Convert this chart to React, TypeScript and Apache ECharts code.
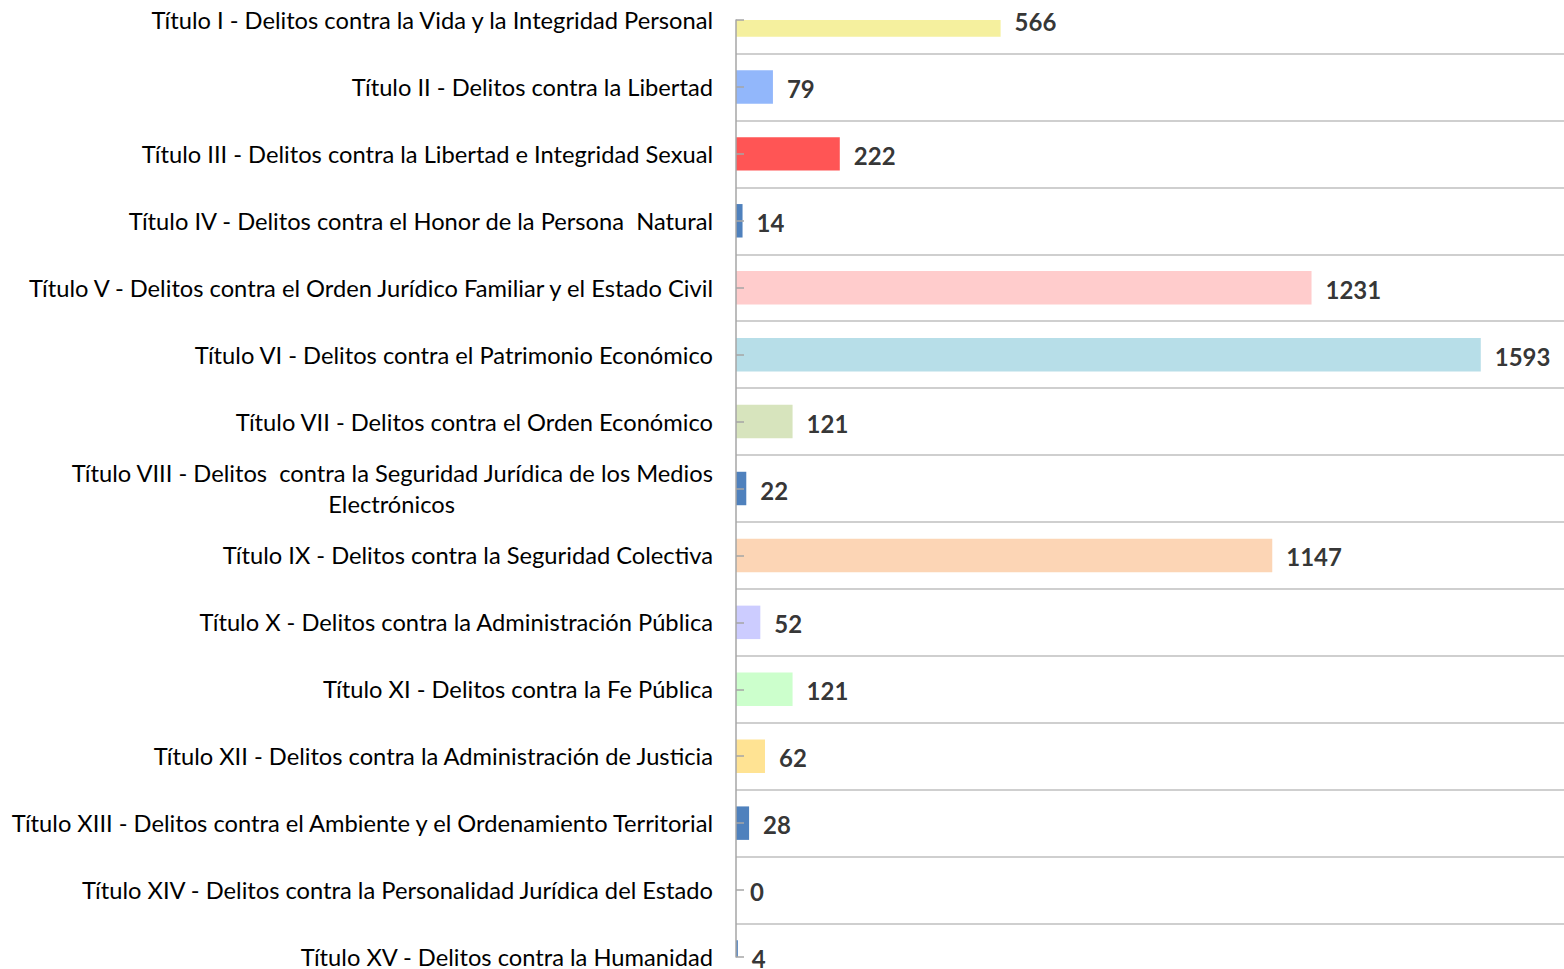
import React, { useEffect, useRef } from "react";
import * as echarts from "echarts";

const categories = [
  "Título I - Delitos contra la Vida y la Integridad Personal",
  "Título II - Delitos contra la Libertad",
  "Título III - Delitos contra la Libertad e Integridad Sexual",
  "Título IV - Delitos contra el Honor de la Persona  Natural",
  "Título V - Delitos contra el Orden Jurídico Familiar y el Estado Civil",
  "Título VI - Delitos contra el Patrimonio Económico",
  "Título VII - Delitos contra el Orden Económico",
  "Título VIII - Delitos  contra la Seguridad Jurídica de los Medios\nElectrónicos",
  "Título IX - Delitos contra la Seguridad Colectiva",
  "Título X - Delitos contra la Administración Pública",
  "Título XI - Delitos contra la Fe Pública",
  "Título XII - Delitos contra la Administración de Justicia",
  "Título XIII - Delitos contra el Ambiente y el Ordenamiento Territorial",
  "Título XIV - Delitos contra la Personalidad Jurídica del Estado",
  "Título XV - Delitos contra la Humanidad",
];

const values = [566, 79, 222, 14, 1231, 1593, 121, 22, 1147, 52, 121, 62, 28, 0, 4];

const barColors = [
  "#F5F09E", "#92B7FB", "#FF5555", "#4F81BD", "#FFCCCC", "#B7DEE8", "#D7E4BD",
  "#4F81BD", "#FCD5B5", "#CCCCFF", "#CCFFCC", "#FFE393", "#4F81BD", "#4F81BD", "#4F81BD",
];

const xMax = 1771;

export default function App() {
  const ref = useRef<HTMLDivElement>(null);
  useEffect(() => {
    if (!ref.current) return;
    const chart = echarts.init(ref.current, null, { renderer: "svg" });
    const font = "Lato";
    const catSize = 23.7;
    chart.setOption({
      animation: false,
      backgroundColor: "#ffffff",
      grid: { left: 736, top: 20, height: 938, right: 0, containLabel: false },
      xAxis: {
        type: "value",
        min: 0,
        max: xMax,
        show: false,
      },
      yAxis: [
        {
          type: "category",
          data: categories,
          inverse: true,
          boundaryGap: false,
          z: 5,
          axisLine: { show: true, lineStyle: { color: "#a6a6a6", width: 1.5 } },
          axisTick: { show: true, inside: true, length: 8, lineStyle: { color: "#a6a6a6", width: 1.5 } },
          splitLine: { show: false },
          axisLabel: {
            margin: 23,
            fontFamily: font,
            fontSize: catSize,
            color: "#000000",
            interval: 0,
            formatter: (v: string) => {
              const parts = v.split("\n");
              if (parts.length > 1) {
                return "{a|" + parts[0] + "}\n{c|" + parts[1] + "}";
              }
              return v;
            },
            rich: {
              a: { fontFamily: font, fontSize: catSize, color: "#000", lineHeight: 31, align: "right" },
              c: { fontFamily: font, fontSize: catSize, color: "#000", lineHeight: 31, align: "center" },
            },
          },
        },
        {
          type: "value",
          min: 0,
          max: 14,
          interval: 0.5,
          inverse: true,
          position: "right",
          axisLine: { show: false },
          axisTick: { show: false },
          axisLabel: { show: false },
          splitLine: {
            show: true,
            lineStyle: { color: ["rgba(0,0,0,0)", "#bfbfbf"], width: 1.5 },
          },
        },
      ],
      series: [
        {
          type: "custom",
          yAxisIndex: 0,
          clip: true,
          z: 2,
          data: values.map((v, i) => [v, i]),
          encode: { x: 0, y: 1 },
          renderItem: (params: any, api: any) => {
            const v = api.value(0);
            const cat = api.value(1);
            const start = api.coord([0, cat]);
            const end = api.coord([v, cat]);
            const step = Math.abs(api.coord([0, 1])[1] - api.coord([0, 0])[1]);
            const h = step * 0.5;
            return {
              type: "rect",
              shape: { x: start[0], y: start[1] - h / 2, width: end[0] - start[0], height: h },
              style: { fill: barColors[params.dataIndex] },
            };
          },
        },
        {
          type: "scatter",
          yAxisIndex: 0,
          symbolSize: 0,
          clip: false,
          data: values.map((v, i) => [v, i]),
          label: {
            show: true,
            position: "right",
            distance: 14,
            offset: [0, 1.5],
            formatter: (p: any) => String(p.value[0]),
            fontFamily: font,
            fontWeight: "bold",
            fontSize: 24,
            color: "#000000",
          },
          z: 3,
        },
      ],
    });
    return () => chart.dispose();
  }, []);
  return (
    <div
      ref={ref}
      style={{ position: "absolute", left: 0, top: 0, width: 1564, height: 969 }}
    />
  );
}
